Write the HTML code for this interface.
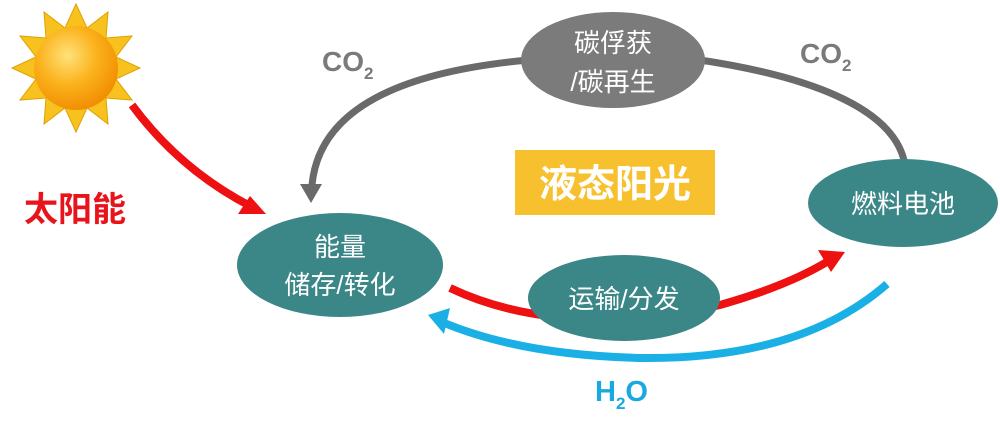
<!DOCTYPE html>
<html><head><meta charset="utf-8"><style>
body{margin:0;background:#fff;width:1000px;height:428px;overflow:hidden}
svg{display:block}
text{font-family:"Liberation Sans","Noto Sans CJK SC",sans-serif}
</style></head><body>
<svg width="1000" height="428" viewBox="0 0 1000 428">
<defs>
<radialGradient id="sg" cx="0.4" cy="0.35" r="0.7">
<stop offset="0" stop-color="#ffe27a"/><stop offset="0.5" stop-color="#fbb21c"/><stop offset="1" stop-color="#f08a00"/>
</radialGradient>
</defs>
<g transform="translate(76,68)">
<polygon fill="#f7c21e" stroke="#e0a000" stroke-width="1" points="0,-64 11,-40 32,-56 30,-30 56,-32 40,-11 64,0 40,11 56,32 30,30 32,56 11,40 0,64 -11,40 -32,56 -30,30 -56,32 -40,11 -64,0 -40,-11 -56,-32 -30,-30 -32,-56 -11,-40"/>
<circle r="42" fill="url(#sg)"/>
</g>
<path d="M132,105 Q180,170 252,207" fill="none" stroke="#ee1111" stroke-width="8"/>
<polygon points="266,214 238,214 250,196" fill="#ee1111"/>
<text x="24" y="221" font-size="34" font-weight="bold" fill="#e8141b">太阳能</text>
<path d="M528,60 C420,70 320,100 312,185" fill="none" stroke="#6a6a6a" stroke-width="7"/>
<polygon points="311,203 300,184 322,184" fill="#6a6a6a"/>
<path d="M700,60 C800,75 895,105 905,165" fill="none" stroke="#6a6a6a" stroke-width="7"/>
<text x="322" y="71" font-size="28" font-weight="bold" fill="#7a7a7a">CO<tspan font-size="17" dy="8">2</tspan></text>
<text x="800" y="63" font-size="28" font-weight="bold" fill="#7a7a7a">CO<tspan font-size="17" dy="8">2</tspan></text>
<ellipse cx="613" cy="60" rx="92" ry="48" fill="#7b7b7b"/>
<text x="613" y="52" font-size="26" fill="#fff" text-anchor="middle">碳俘获</text>
<text x="613" y="91" font-size="26" fill="#fff" text-anchor="middle">/碳再生</text>
<rect x="515" y="150" width="200" height="65" fill="#f7c02f"/>
<text x="615" y="197" font-size="38" font-weight="bold" fill="#fff" text-anchor="middle">液态阳光</text>
<path d="M450,288 Q560,340 720,305 Q790,285 830,260" fill="none" stroke="#ee1111" stroke-width="8"/>
<polygon points="845,252 818,250 831,272" fill="#ee1111"/>
<path d="M887,284 Q800,360 640,358 Q520,355 442,322" fill="none" stroke="#1ab0e6" stroke-width="8"/>
<polygon points="428,315 450,308 444,334" fill="#1ab0e6"/>
<text x="595" y="401" font-size="29" font-weight="bold" fill="#1aa8e0">H<tspan font-size="17" dy="8">2</tspan><tspan dy="-8">O</tspan></text>
<ellipse cx="340" cy="265" rx="103" ry="52" fill="#3b8788"/>
<text x="340" y="256" font-size="26" fill="#fff" text-anchor="middle">能量</text>
<text x="340" y="294" font-size="26" fill="#fff" text-anchor="middle">储存/转化</text>
<ellipse cx="903" cy="203" rx="95" ry="44" fill="#3b8788"/>
<text x="903" y="213" font-size="26" fill="#fff" text-anchor="middle">燃料电池</text>
<ellipse cx="624" cy="298" rx="96" ry="43" fill="#3b8788"/>
<text x="624" y="308" font-size="26" fill="#fff" text-anchor="middle">运输/分发</text>
</svg>
</body></html>
